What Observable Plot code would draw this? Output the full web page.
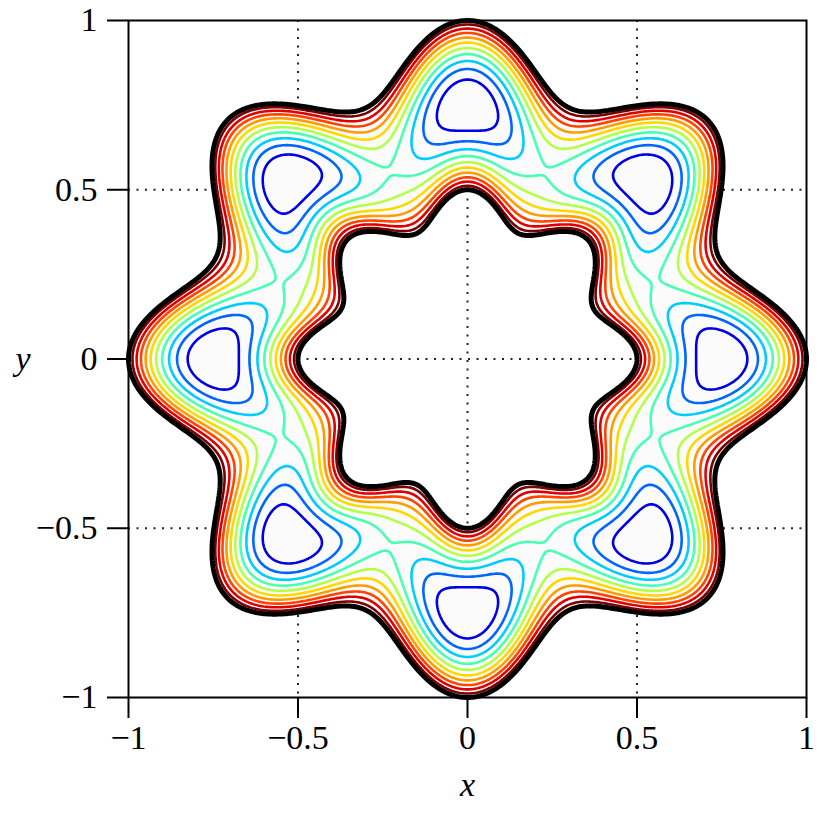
<!DOCTYPE html>
<html><head><meta charset="utf-8">
<script src="https://cdn.jsdelivr.net/npm/d3@7"></script>
<script src="https://cdn.jsdelivr.net/npm/@observablehq/plot@0.6"></script>
<style>body{margin:0;background:#fff;}</style>
</head><body><div id="chart"></div>
<script>
// Domain: hole edge r = 0.45 + 0.05 cos 8θ, outer edge r = 0.9 + 0.1 cos 8θ
const lobeCount = 8;
const innerBoundary = [0.45, 0.05];   // mean radius, amplitude
const outerBoundary = [0.90, 0.10];   // mean radius, amplitude
const xTicks = [-1, -0.5, 0, 0.5, 1];
const yTicks = [-1, -0.5, 0, 0.5, 1];
const gridLines = [-0.5, 0, 0.5];
const levels = [0.0057, 0.0114, 0.0170, 0.0227, 0.0284, 0.0341, 0.0398, 0.0455, 0.0511, 0.0568];
const levelColors = ["#7d0000", "#e00000", "#ff4400", "#ff9c00", "#ffd800", "#b4ff48", "#48ffb4", "#00ccff", "#0066ff", "#0000e6"];

// field sampled on a grid: u = (r - r_in(θ)) (r_out(θ) - r)
const N = 401, h = 2 / (N - 1);
const field = new Array(N * N);
for (let j = 0; j < N; j++) {
  const y = 1 - j * h;
  for (let i = 0; i < N; i++) {
    const x = -1 + i * h;
    const r = Math.hypot(x, y), c = Math.cos(lobeCount * Math.atan2(y, x));
    field[j * N + i] = (r - (innerBoundary[0] + innerBoundary[1] * c)) * ((outerBoundary[0] + outerBoundary[1] * c) - r);
  }
}

const grid = {width: N, height: N, x1: -1 - h / 2, x2: 1 + h / 2, y1: 1 + h / 2, y2: -1 - h / 2};
const font = "Liberation Serif, Times New Roman, serif";
const fmt = d => String(d).replace("-", "\u2212");
const plot = Plot.plot({
  width: 829, height: 813,
  marginLeft: 128, marginRight: 23, marginTop: 20, marginBottom: 116,
  x: {domain: [-1, 1]}, y: {domain: [-1, 1]},
  style: {fontFamily: font, background: "#fff"},
  marks: [
    Plot.ruleX(gridLines, {stroke: "#222", strokeWidth: 2, strokeDasharray: "2,6.5"}),
    Plot.ruleY(gridLines, {stroke: "#222", strokeWidth: 2, strokeDasharray: "2,6.5"}),
    Plot.contour(field, {...grid, thresholds: [0], fill: "#fbfbfb", stroke: "none"}),
    ...levels.map((lv, idx) => Plot.contour(field, {...grid, thresholds: [lv], fill: "none", stroke: levelColors[idx], strokeWidth: 2.6})),
    Plot.contour(field, {...grid, thresholds: [0], fill: "none", stroke: "#000", strokeWidth: 5}),
    Plot.frame({stroke: "#000", strokeWidth: 2}),
    Plot.axisX(xTicks, {tickSize: 21, strokeWidth: 2, tickPadding: 6, fontSize: 34, fontFamily: font, label: null, tickFormat: fmt}),
    Plot.axisY(yTicks, {tickSize: 21, strokeWidth: 2, tickPadding: 10, fontSize: 34, fontFamily: font, label: null, tickFormat: fmt}),
    Plot.text(["x"], {frameAnchor: "bottom", dy: 98, fontStyle: "italic", fontSize: 34, fontFamily: font}),
    Plot.text(["y"], {frameAnchor: "left", dx: -113, fontStyle: "italic", fontSize: 34, fontFamily: font})
  ]
});
document.getElementById("chart").appendChild(plot);
</script></body></html>
